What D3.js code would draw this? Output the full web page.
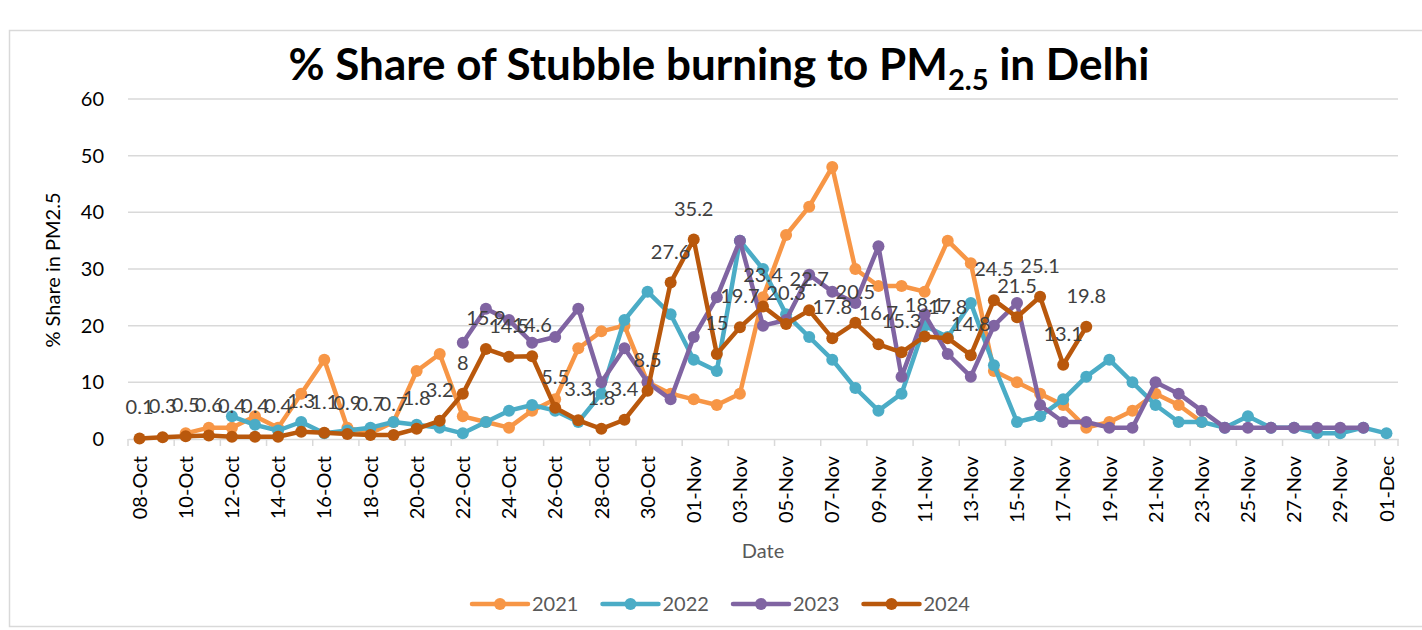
<!DOCTYPE html>
<html>
<head>
<meta charset="utf-8">
<script src="https://cdn.jsdelivr.net/npm/d3@7"></script>
<style>
  body { margin: 0; background: #fff; }
  svg { font-family: Lato, 'Open Sans', sans-serif; }
</style>
</head>
<body>
<div id="chart"></div>
<script>
// categories (one per day)
var dates = ['08-Oct', '09-Oct', '10-Oct', '11-Oct', '12-Oct', '13-Oct', '14-Oct', '15-Oct', '16-Oct', '17-Oct',
  '18-Oct', '19-Oct', '20-Oct', '21-Oct', '22-Oct', '23-Oct', '24-Oct', '25-Oct', '26-Oct', '27-Oct',
  '28-Oct', '29-Oct', '30-Oct', '31-Oct', '01-Nov', '02-Nov', '03-Nov', '04-Nov', '05-Nov', '06-Nov',
  '07-Nov', '08-Nov', '09-Nov', '10-Nov', '11-Nov', '12-Nov', '13-Nov', '14-Nov', '15-Nov', '16-Nov',
  '17-Nov', '18-Nov', '19-Nov', '20-Nov', '21-Nov', '22-Nov', '23-Nov', '24-Nov', '25-Nov', '26-Nov',
  '27-Nov', '28-Nov', '29-Nov', '30-Nov', '01-Dec'];

// series values (null = no data that day)
var v2021 = [null, null, 1, 2, 2, 4, 2, 8, 14, 2,
  1, 3, 12, 15, 4, 3, 2, 5, 7, 16,
  19, 20, 10, 8, 7, 6, 8, 25, 36, 41,
  48, 30, 27, 27, 26, 35, 31, 12, 10, 8,
  6, 2, 3, 5, 8, 6, 3];
var v2022 = [null, null, null, null, 4, 2.5, 1.5, 3, 1, 1.5,
  2, 3, 2.5, 2, 1, 3, 5, 6, 5, 3,
  8, 21, 26, 22, 14, 12, 35, 30, 22, 18,
  14, 9, 5, 8, 20, 18, 24, 13, 3, 4,
  7, 11, 14, 10, 6, 3, 3, 2, 4, 2,
  2, 1, 1, 2, 1];
var v2023 = [null, null, null, null, null, null, null, null, null, null,
  null, null, null, null, 17, 23, 21, 17, 18, 23,
  10, 16, 10, 7, 18, 25, 35, 20, 21, 29,
  26, 24, 34, 11, 22, 15, 11, 20, 24, 6,
  3, 3, 2, 2, 10, 8, 5, 2, 2, 2,
  2, 2, 2, 2];
var v2024 = [0.1, 0.3, 0.5, 0.6, 0.4, 0.4, 0.4, 1.3, 1.1, 0.9,
  0.7, 0.7, 1.8, 3.2, 8, 15.9, 14.5, 14.6, 5.5, 3.3,
  1.8, 3.4, 8.5, 27.6, 35.2, 15, 19.7, 23.4, 20.3, 22.7,
  17.8, 20.5, 16.7, 15.3, 18.1, 17.8, 14.8, 24.5, 21.5, 25.1,
  13.1, 19.8];

var yTicks = [0, 10, 20, 30, 40, 50, 60];

var series = [
  {name: '2021', values: v2021, color: '#F79646'},
  {name: '2022', values: v2022, color: '#4BACC6'},
  {name: '2023', values: v2023, color: '#8064A2'},
  {name: '2024', values: v2024, color: '#B9580C'}
];

var width = 1422;
var height = 630;

var svg = d3.select('#chart')
    .append('svg')
    .attr('width', width)
    .attr('height', height);

// chart frame
svg.append('rect')
    .attr('x', 9.5)
    .attr('y', 30.5)
    .attr('width', 1430)
    .attr('height', 596)
    .attr('fill', 'none')
    .attr('stroke', '#D9D9D9')
    .attr('stroke-width', 1.5);

// scales
var x = d3.scaleBand()
    .domain(dates)
    .range([128, 1398]);
var y = d3.scaleLinear()
    .domain([0, 60])
    .range([439, 99]);
var cx = function(i) { return x(dates[i]) + x.bandwidth() / 2; };

// title
var title = svg.append('text')
    .attr('x', 719)
    .attr('y', 80)
    .attr('text-anchor', 'middle')
    .attr('font-size', 44)
    .attr('font-weight', 'bold')
    .attr('fill', '#000');
title.append('tspan').text('% Share of Stubble burning to PM');
title.append('tspan').attr('font-size', 29).attr('dy', 10).text('2.5');
title.append('tspan').attr('dy', -10).text(' in Delhi');

// gridlines
svg.append('g').selectAll('line')
    .data(yTicks.slice(1))
    .enter()
    .append('line')
    .attr('x1', 128)
    .attr('x2', 1398)
    .attr('y1', function(d) { return y(d); })
    .attr('y2', function(d) { return y(d); })
    .attr('stroke', '#D9D9D9')
    .attr('stroke-width', 1.5);

// y axis labels
var axisY = d3.axisLeft(y).tickValues(yTicks).tickSize(0).tickPadding(24);
svg.append('g')
    .attr('transform', 'translate(128,0)')
    .call(axisY)
    .call(function(g) {
      g.select('.domain').remove();
      g.selectAll('text').attr('font-size', 20).attr('fill', '#000')
          .attr('font-family', 'Lato, sans-serif');
    });

// x axis line with ticks every 2 days
var axisX = d3.axisBottom(x)
    .tickValues(dates.filter(function(d, i) { return i % 2 === 0; }))
    .tickSize(0)
    .tickFormat('');
svg.append('g')
    .attr('transform', 'translate(0,439)')
    .call(axisX)
    .call(function(g) {
      g.select('.domain').attr('stroke', '#D9D9D9').attr('stroke-width', 1.5);
      g.selectAll('.tick line')
          .attr('x1', -x.bandwidth() / 2).attr('x2', -x.bandwidth() / 2)
          .attr('y2', 7).attr('stroke', '#D9D9D9').attr('stroke-width', 1.5);
    });
svg.append('line')
    .attr('x1', 1398).attr('x2', 1398).attr('y1', 439).attr('y2', 446)
    .attr('stroke', '#D9D9D9').attr('stroke-width', 1.5);

// x tick labels (rotated)
svg.append('g').selectAll('text')
    .data(dates.filter(function(d, i) { return i % 2 === 0; }))
    .enter()
    .append('text')
    .attr('transform', function(d) {
      return 'translate(' + (x(d) + x.bandwidth() / 2) + ',456) rotate(-90)';
    })
    .attr('dy', '0.36em')
    .attr('text-anchor', 'end')
    .attr('font-size', 20)
    .attr('fill', '#000')
    .text(function(d) { return d; });

// axis titles
svg.append('text')
    .attr('transform', 'translate(60,270) rotate(-90)')
    .attr('text-anchor', 'middle')
    .attr('font-size', 20)
    .attr('fill', '#000')
    .text('% Share in PM2.5');
svg.append('text')
    .attr('x', 763)
    .attr('y', 558)
    .attr('text-anchor', 'middle')
    .attr('font-size', 20)
    .attr('fill', '#595959')
    .text('Date');

// lines and markers
var line = d3.line()
    .defined(function(d) { return d != null; })
    .x(function(d, i) { return cx(i); })
    .y(function(d) { return y(d); });

series.forEach(function(s) {
  var g = svg.append('g');
  g.append('path')
      .datum(s.values)
      .attr('d', line)
      .attr('fill', 'none')
      .attr('stroke', s.color)
      .attr('stroke-width', 4.5)
      .attr('stroke-linejoin', 'round')
      .attr('stroke-linecap', 'round');
  g.selectAll('circle')
      .data(s.values.map(function(v, i) { return {v: v, i: i}; })
          .filter(function(d) { return d.v != null; }))
      .enter()
      .append('circle')
      .attr('cx', function(d) { return cx(d.i); })
      .attr('cy', function(d) { return y(d.v); })
      .attr('r', 6)
      .attr('fill', s.color);
});

// data labels for 2024
svg.append('g').selectAll('text')
    .data(v2024)
    .enter()
    .append('text')
    .attr('x', function(d, i) { return cx(i); })
    .attr('y', function(d) { return y(d) - 24; })
    .attr('text-anchor', 'middle')
    .attr('font-size', 20)
    .attr('fill', '#404040')
    .text(function(d) { return d; });

// legend
var legend = svg.append('g').selectAll('g')
    .data(series)
    .enter()
    .append('g')
    .attr('transform', function(d, i) { return 'translate(' + (472 + i * 130.5) + ',604)'; });
legend.append('line')
    .attr('x1', 0).attr('x2', 56)
    .attr('stroke', function(d) { return d.color; })
    .attr('stroke-width', 4.5)
    .attr('stroke-linecap', 'round');
legend.append('circle')
    .attr('cx', 28)
    .attr('r', 6)
    .attr('fill', function(d) { return d.color; });
legend.append('text')
    .attr('x', 60)
    .attr('dy', '0.35em')
    .attr('font-size', 20)
    .attr('fill', '#595959')
    .text(function(d) { return d.name; });
</script>
</body>
</html>
